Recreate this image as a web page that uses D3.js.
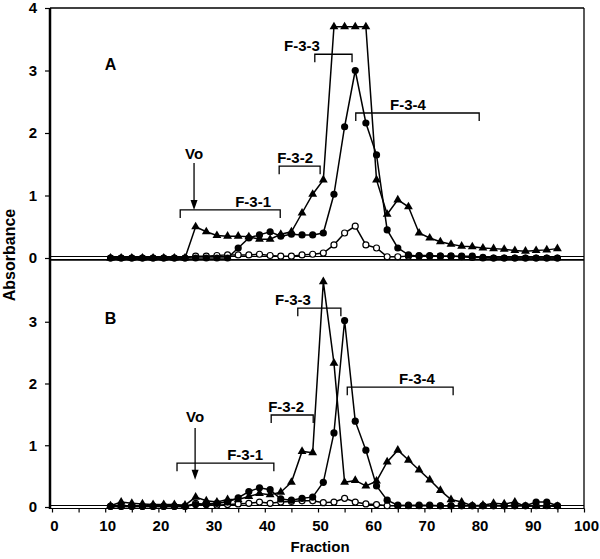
<!DOCTYPE html>
<html><head><meta charset="utf-8">
<script src="https://cdn.jsdelivr.net/npm/d3@7"></script>
<style>body{margin:0;background:#fff}svg{display:block}text{font-family:"Liberation Sans",Arial,sans-serif;font-weight:bold;fill:#000}</style>
</head><body><svg id="c" width="600" height="559"></svg>
<script>
const fractions = [11,13,15,17,19,21,23,25,27,29,31,33,35,37,39,41,43,45,47,49,51,53,55,57,59,61,63,65,67,69,71,73,75,77,79,81,83,85,87,89,91,93,95];
// Panel A
const triA = [0,0,0,0,0,0,0,0,0.5,0.42,0.36,0.35,0.35,0.34,0.3,0.3,0.38,0.42,0.72,1.02,1.25,3.7,3.7,3.7,3.7,1.25,0.7,0.93,0.82,0.40,0.32,0.26,0.22,0.19,0.18,0.16,0.15,0.14,0.12,0.11,0.12,0.13,0.15];
const dotA = [0,0,0,0,0,0,0,0,0,0,0,0,0.16,0.32,0.37,0.42,0.35,0.38,0.37,0.37,0.4,1.02,2.1,3.0,2.16,1.65,0.45,0.16,0.05,0.03,0.03,0.03,0.03,0.03,0.03,0,0,0,0,0,0,0,0];
const ringA = [0,0,0,0,0,0,0,0,0.03,0.03,0.04,0.05,0.05,0.05,0.06,0.04,0.03,0.03,0.05,0.06,0.08,0.21,0.40,0.51,0.21,0.16,0.02,0.02,0.03,0.04,0.04,0.03,0.03,0.02,0.01,0.01,0,0,0,0,0,0,0];
// Panel B
const triB = [0.02,0.08,0.06,0.05,0.04,0.04,0.04,0.03,0.16,0.1,0.08,0.12,0.12,0.17,0.22,0.2,0.24,0.4,0.9,0.88,3.65,2.33,0.4,0.43,0.34,0.42,0.73,0.92,0.76,0.6,0.44,0.27,0.12,0.08,0.02,0.03,0.06,0.05,0.08,0.01,0.02,0.02,0.01];
const dotB = [0.01,0.01,0.01,0.01,0.01,0.01,0.01,0.01,0.04,0.05,0.06,0.08,0.15,0.25,0.31,0.28,0.13,0.11,0.14,0.16,0.4,1.2,3.02,1.39,0.92,0.34,0.11,0.03,0.02,0.02,0.02,0.02,0.02,0.02,0.02,0.02,0.02,0.02,0.02,0.02,0.08,0.08,0.02];
const ringB = [0.01,0.01,0.01,0.01,0.01,0.01,0.01,0.01,0.06,0.04,0.03,0.04,0.05,0.06,0.08,0.06,0.08,0.09,0.1,0.1,0.07,0.08,0.14,0.08,0.05,0.04,0.02,0.02,0.03,0.03,0.03,0.02,0.02,0.02,0.02,0.02,0.02,0.02,0.02,0.02,0.02,0.02,0.02];

const xTicks = [0,10,20,30,40,50,60,70,80,90,100];
const yTicksA = [0,1,2,3,4];
const yTicksB = [0,1,2,3];

// annotations: [label, x1, x2, y]
const bracketsA = [["F-3-1",24.1,42.9,0.77],["F-3-2",42.7,50.4,1.47],["F-3-3",49.4,56.4,3.26],["F-3-4",57.1,80.3,2.32]];
const labelXA = [37.8,45.7,47,66.9];
const bracketsB = [["F-3-1",23.5,41.7,0.71],["F-3-2",41.2,49.1,1.49],["F-3-3",46.2,54.3,3.22],["F-3-4",55.5,75.4,1.94]];
const labelXB = [36.3,44,45.3,68.6];
const voA = {x:26.7, text:1.66, y1:1.52, y2:0.77};
const voB = {x:26.9, text:1.46, y1:1.28, y2:0.44};

const svg = d3.select("#c");
const x = d3.scaleLinear().domain([0,100]).range([52,584]);
const yA = d3.scaleLinear().domain([0,4]).range([258,8]);
const yB = d3.scaleLinear().domain([0,4]).range([507,260]);

function panel(y, ticks, tri, dot, ring, brackets, labelX, vo, letter, isBottom) {
  const g = svg.append("g");
  // frame
  g.append("line").attr("x1",x(0)-2).attr("x2",x(0)-2).attr("y1",y(4)).attr("y2",y(0)+2).attr("stroke","#000").attr("stroke-width",2.5);
  g.append("line").attr("x1",x(0)-2).attr("x2",x(100)).attr("y1",y(4)).attr("y2",y(4)).attr("stroke","#000").attr("stroke-width",1.3);
  g.append("line").attr("x1",x(100)).attr("x2",x(100)).attr("y1",y(4)).attr("y2",y(0)+2).attr("stroke","#000").attr("stroke-width",1.3);
  // double zero line
  g.append("line").attr("x1",x(0)-2).attr("x2",x(100)).attr("y1",y(0)-1.5).attr("y2",y(0)-1.5).attr("stroke","#000").attr("stroke-width",1.1);
  g.append("line").attr("x1",x(0)-2).attr("x2",x(100)).attr("y1",y(0)+1.5).attr("y2",y(0)+1.5).attr("stroke","#000").attr("stroke-width",1.1);
  // y axis ticks/labels
  const ya = d3.axisLeft(y).tickValues(ticks).tickSize(5).tickFormat(d3.format("d"));
  const yg = g.append("g").attr("transform",`translate(${x(0)-2},0)`).call(ya);
  yg.select(".domain").remove();
  yg.selectAll("line").attr("stroke","#000").attr("stroke-width",1.2);
  yg.selectAll("text").attr("font-size",15).attr("font-weight","bold").attr("font-family","Liberation Sans, Arial, sans-serif").attr("x",-13);
  if (isBottom) {
    const xa = d3.axisBottom(x).tickValues(d3.range(0,101,5)).tickSize(4).tickFormat(d => xTicks.includes(d) ? d : "");
    const xg = g.append("g").attr("transform",`translate(0,${y(0)+1.5})`).call(xa);
    xg.select(".domain").remove();
    xg.selectAll("line").attr("stroke","#000").attr("stroke-width",1.2);
    xg.selectAll("text").attr("font-size",15).attr("font-weight","bold").attr("font-family","Liberation Sans, Arial, sans-serif").attr("y",12).attr("dx",2);
  }
  // series
  const line = d3.line().x((d,i)=>x(fractions[i])).y(d=>y(d));
  [ring, dot, tri].forEach(s => g.append("path").attr("d",line(s)).attr("fill","none").attr("stroke","#000").attr("stroke-width",1.5));
  g.selectAll(".ring").data(ring).join("circle").attr("cx",(d,i)=>x(fractions[i])).attr("cy",d=>y(d)).attr("r",3).attr("fill","#fff").attr("stroke","#000").attr("stroke-width",1.2);
  g.selectAll(".dot").data(dot).join("circle").attr("cx",(d,i)=>x(fractions[i])).attr("cy",d=>y(d)).attr("r",3.6).attr("fill","#000");
  const tsym = d3.symbol().type(d3.symbolTriangle).size(34);
  g.selectAll(".tri").data(tri).join("path").attr("d",tsym).attr("transform",(d,i)=>`translate(${x(fractions[i])},${y(d)})`).attr("fill","#000");
  // brackets
  brackets.forEach((b,i) => {
    const [lab,x1,x2,yy] = b;
    const py = y(yy);
    g.append("path").attr("d",`M${x(x1)},${py+8}V${py}H${x(x2)}V${py+8}`).attr("fill","none").attr("stroke","#000").attr("stroke-width",1.3);
    g.append("text").attr("x",x(labelX[i])).attr("y",py-3).attr("text-anchor","middle").attr("font-size",15).text(lab);
  });
  // Vo arrow
  g.append("text").attr("x",x(vo.x)).attr("y",y(vo.text)+5).attr("text-anchor","middle").attr("font-size",15).text("Vo");
  g.append("line").attr("x1",x(vo.x)).attr("x2",x(vo.x)).attr("y1",y(vo.y1)).attr("y2",y(vo.y2)-8).attr("stroke","#000").attr("stroke-width",1.3);
  const ty = y(vo.y2), tx = x(vo.x);
  g.append("path").attr("d",`M${tx-3.5},${ty-10}L${tx+3.5},${ty-10}L${tx},${ty}Z`).attr("fill","#000");
  // panel letter
  g.append("text").attr("x",x(11)).attr("y",y(3)).attr("text-anchor","middle").attr("font-size",16).attr("dy", "0.35em").text(letter);
}

panel(yA, yTicksA, triA, dotA, ringA, bracketsA, labelXA, voA, "A", false);
panel(yB, yTicksB, triB, dotB, ringB, bracketsB, labelXB, voB, "B", true);
// fix letter positions
svg.selectAll("text").filter(function(){return d3.select(this).text()==="A" && +d3.select(this).attr("font-size")===16;}).attr("y",yA(3.1));
svg.selectAll("text").filter(function(){return d3.select(this).text()==="B" && +d3.select(this).attr("font-size")===16;}).attr("y",yB(3.05));

svg.append("text").attr("transform","translate(15,255) rotate(-90)").attr("text-anchor","middle").attr("font-size",16).text("Absorbance");
svg.append("text").attr("x",320).attr("y",552).attr("text-anchor","middle").attr("font-size",15).text("Fraction");
</script></body></html>
